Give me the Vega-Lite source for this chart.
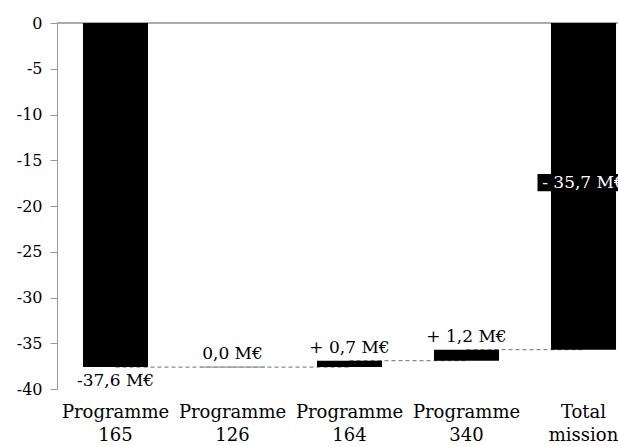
{
  "$schema": "https://vega.github.io/schema/vega-lite/v6.json",
  "autosize": "none",
  "width": 585,
  "height": 366,
  "padding": {"left": 57, "top": 23, "right": 0, "bottom": 57},
  "background": "white",
  "config": {"view": {"stroke": null}, "font": "DejaVu Serif"},
  "data": {
    "values": [
      {"cat": "Programme 165", "start": 0, "end": -37.6, "label": "-37,6 M€", "next": "Programme 126"},
      {"cat": "Programme 126", "start": -37.6, "end": -37.6, "label": "0,0 M€", "next": "Programme 164"},
      {"cat": "Programme 164", "start": -37.6, "end": -36.9, "label": "+ 0,7 M€", "next": "Programme 340"},
      {"cat": "Programme 340", "start": -36.9, "end": -35.7, "label": "+ 1,2 M€", "next": "Total mission"},
      {"cat": "Total mission", "start": 0, "end": -35.7, "label": "- 35,7 M€", "next": null}
    ]
  },
  "encoding": {
    "x": {
      "field": "cat", "type": "nominal", "sort": null,
      "scale": {"paddingInner": 0.444, "paddingOuter": 0.222},
      "axis": {
        "title": null, "labelAngle": 0, "domain": false, "ticks": false,
        "labelPadding": 14, "labelFontSize": 18, "labelColor": "#000",
        "labelFont": "DejaVu Serif", "labelLineHeight": 23,
        "labelExpr": "split(datum.label, ' ')"
      }
    }
  },
  "layer": [
    {
      "mark": {"type": "rule", "color": "#aaaaaa", "strokeWidth": 1.5},
      "encoding": {"x": null, "y": {"datum": 0, "type": "quantitative"}}
    },
    {
      "transform": [{"filter": "datum.next != null"}],
      "mark": {"type": "rule", "color": "#8c8c8c", "strokeDash": [4, 3], "strokeWidth": 1.2},
      "encoding": {
        "x2": {"field": "next"},
        "y": {"field": "end", "type": "quantitative"}
      }
    },
    {
      "mark": {"type": "bar", "color": "#000000"},
      "encoding": {
        "y": {
          "field": "start", "type": "quantitative",
          "scale": {"domain": [-40, 0], "nice": false},
          "axis": {
            "title": null, "grid": false, "values": [-40, -35, -30, -25, -20, -15, -10, -5, 0],
            "labelExpr": "'' + datum.value", "labelFontSize": 16, "labelColor": "#000",
            "labelFont": "DejaVu Serif", "labelPadding": 8,
            "domainColor": "#999999", "tickColor": "#999999", "tickSize": 7
          }
        },
        "y2": {"field": "end"},
        "stroke": {
          "condition": {"test": "datum.cat == 'Programme 126'", "value": "#999999"},
          "value": null
        },
        "strokeWidth": {"value": 1.2}
      }
    },
    {
      "transform": [{"filter": "datum.cat == 'Programme 165'"}],
      "mark": {"type": "text", "baseline": "top", "dy": 6, "fontSize": 17, "font": "DejaVu Serif", "color": "#000"},
      "encoding": {"y": {"field": "end", "type": "quantitative"}, "text": {"field": "label"}}
    },
    {
      "transform": [{"filter": "datum.cat != 'Programme 165' && datum.cat != 'Total mission'"}],
      "mark": {"type": "text", "baseline": "alphabetic", "dy": -8, "fontSize": 17, "font": "DejaVu Serif", "color": "#000"},
      "encoding": {"y": {"field": "end", "type": "quantitative"}, "text": {"field": "label"}}
    },
    {
      "transform": [{"filter": "datum.cat == 'Total mission'"}],
      "mark": {"type": "bar", "color": "#000000", "size": 92},
      "encoding": {
        "y": {"datum": -16.5, "type": "quantitative"},
        "y2": {"datum": -18.4}
      }
    },
    {
      "transform": [{"filter": "datum.cat == 'Total mission'"}],
      "mark": {"type": "text", "baseline": "middle", "fontSize": 17, "font": "DejaVu Serif", "color": "#ffffff"},
      "encoding": {"y": {"datum": -17.45, "type": "quantitative"}, "text": {"field": "label"}}
    }
  ]
}
